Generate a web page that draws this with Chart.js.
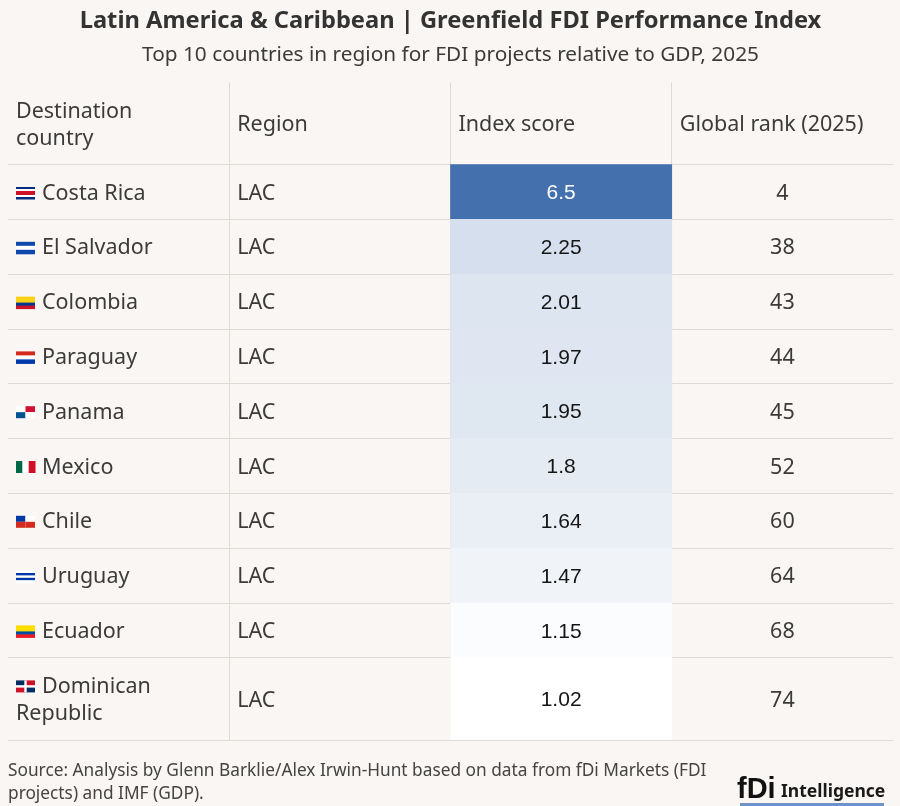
<!DOCTYPE html>
<html>
<head>
<meta charset="utf-8">
<script src="https://cdn.jsdelivr.net/npm/chart.js@4.4.1/dist/chart.umd.min.js"></script>
<style>
  html, body { margin: 0; padding: 0; background: #faf6f3; }
  canvas { display: block; }
</style>
</head>
<body>
<canvas id="myChart" width="900" height="806"></canvas>
<script>
// table content
const headers = [['Destination', 'country'], ['Region'], ['Index score'], ['Global rank (2025)']];
const countries = [['Costa Rica'], ['El Salvador'], ['Colombia'], ['Paraguay'], ['Panama'],
    ['Mexico'], ['Chile'], ['Uruguay'], ['Ecuador'], ['Dominican', 'Republic']];
const regions = ['LAC', 'LAC', 'LAC', 'LAC', 'LAC', 'LAC', 'LAC', 'LAC', 'LAC', 'LAC'];
const scores = [6.5, 2.25, 2.01, 1.97, 1.95, 1.8, 1.64, 1.47, 1.15, 1.02];
const ranks = [4, 38, 43, 44, 45, 52, 60, 64, 68, 74];

const FONT = "'Noto Sans', sans-serif";
const gridColor = '#dedad6';
const textColor = '#3b3b3b';

// little flags, drawn in place of emoji
const flags = {
    'Costa Rica': {h: [['#002b7f', 1], ['#fff', 1], ['#ce1126', 2], ['#fff', 1], ['#002b7f', 1]]},
    'El Salvador': {h: [['#0f47af', 1], ['#fff', 1], ['#0f47af', 1]]},
    'Colombia': {h: [['#fcd116', 2], ['#003893', 1], ['#ce1126', 1]]},
    'Paraguay': {h: [['#d52b1e', 1], ['#fff', 1], ['#0038a8', 1]]},
    'Panama': {q: ['#fff', '#d21034', '#005293', '#fff']},
    'Mexico': {v: [['#006847', 1], ['#fff', 1], ['#ce1126', 1]]},
    'Chile': {q: ['#0039a6', '#fff', '#d52b1e', '#d52b1e']},
    'Uruguay': {h: [['#fff', 1], ['#0038a8', 1], ['#fff', 1], ['#0038a8', 1], ['#fff', 1]]},
    'Ecuador': {h: [['#ffdd00', 2], ['#034ea2', 1], ['#ed1c24', 1]]},
    'Dominican': {q: ['#002d62', '#ce1126', '#ce1126', '#002d62'], cross: '#fff'}
};

// row extents in "row units": one-line rows = 1, two-line rows = 1.5
const unitsFor = lines => lines.length > 1 ? 1.5 : 1;
const headerUnits = Math.max(...headers.map(unitsFor));
let rowTop = [], rowBottom = [];
let acc = headerUnits;
countries.forEach(c => {
    rowTop.push(acc);
    acc += unitsFor(c);
    rowBottom.push(acc);
});
const totalUnits = acc;
const boundaries = [0, headerUnits].concat(rowBottom);

// colour scale for the index score column
const lo = [255, 255, 255], hi = [68, 112, 174];
const minS = Math.min(...scores), maxS = Math.max(...scores);
function scoreColor(s) {
    const t = (s - minS) / (maxS - minS);
    const c = lo.map((v, k) => Math.round(v + (hi[k] - v) * t));
    return 'rgb(' + c.join(',') + ')';
}

function drawFlag(ctx, f, x, y, w, h) {
    ctx.save();
    if (f.h || f.v) {
        const parts = f.h || f.v;
        const total = parts.reduce((a, p) => a + p[1], 0);
        let pos = 0;
        parts.forEach(p => {
            ctx.fillStyle = p[0];
            if (f.h) ctx.fillRect(x, y + h * pos / total, w, h * p[1] / total + 0.5);
            else ctx.fillRect(x + w * pos / total, y, w * p[1] / total + 0.5, h);
            pos += p[1];
        });
    } else {
        const q = f.q;
        ctx.fillStyle = q[0]; ctx.fillRect(x, y, w / 2, h / 2);
        ctx.fillStyle = q[1]; ctx.fillRect(x + w / 2, y, w / 2, h / 2);
        ctx.fillStyle = q[2]; ctx.fillRect(x, y + h / 2, w / 2, h / 2);
        ctx.fillStyle = q[3]; ctx.fillRect(x + w / 2, y + h / 2, w / 2, h / 2);
        if (f.cross) {
            ctx.fillStyle = f.cross;
            ctx.fillRect(x + w / 2 - 1.2, y, 2.4, h);
            ctx.fillRect(x, y + h / 2 - 1.2, w, 2.4);
        }
    }
    ctx.restore();
}

const tableText = {
    id: 'tableText',
    beforeDraw(chart) {
        const ctx = chart.ctx;
        ctx.save();
        ctx.fillStyle = '#faf6f3';
        ctx.fillRect(0, 0, chart.width, chart.height);
        ctx.restore();
    },
    afterDatasetsDraw(chart) {
        const ctx = chart.ctx;
        const xs = chart.scales.x, ys = chart.scales.y;
        const colW = xs.getPixelForValue(1) - xs.getPixelForValue(0);
        const left = c => xs.getPixelForValue(c) - colW / 2;
        const lineH = 27;
        const nudge = 1.5;
        const bodyFont = '21.5px ' + FONT;
        ctx.save();
        ctx.textBaseline = 'middle';

        function lines(arr, x, yc, align) {
            ctx.textAlign = align;
            arr.forEach((t, k) => {
                ctx.fillText(t, x, yc + nudge + (k - (arr.length - 1) / 2) * lineH);
            });
        }

        // header
        ctx.font = bodyFont;
        ctx.fillStyle = textColor;
        const hy = ys.getPixelForValue(headerUnits / 2);
        headers.forEach((h, c) => lines(h, left(c) + 8, hy, 'left'));

        countries.forEach((name, i) => {
            const yc = ys.getPixelForValue((rowTop[i] + rowBottom[i]) / 2);
            ctx.font = bodyFont;
            ctx.fillStyle = textColor;
            // flag sits in front of the first line
            const firstY = yc - (name.length - 1) / 2 * lineH;
            drawFlag(ctx, flags[name[0]], left(0) + 8, firstY - 5, 19, 12);
            ctx.textAlign = 'left';
            name.forEach((t, k) => {
                const xx = k === 0 ? left(0) + 34 : left(0) + 8;
                ctx.fillText(t, xx, firstY + nudge + k * lineH);
            });
            lines([regions[i]], left(1) + 8, yc, 'left');
            lines([String(ranks[i])], xs.getPixelForValue(3), yc, 'center');
            ctx.font = "21px 'Liberation Sans', Arial, sans-serif";
            ctx.fillStyle = i === scores.indexOf(maxS) ? '#ffffff' : '#151515';
            lines([String(scores[i])], xs.getPixelForValue(2), yc, 'center');
        });
        ctx.restore();
    },
    afterDraw(chart) {
        const ctx = chart.ctx;
        const b = chart.chartArea.bottom;
        ctx.save();
        ctx.textBaseline = 'middle';
        ctx.textAlign = 'left';
        ctx.fillStyle = '#444';
        ctx.font = '17.3px ' + FONT;
        ctx.fillText('Source: Analysis by Glenn Barklie/Alex Irwin-Hunt based on data from fDi Markets (FDI', 8, b + 31);
        ctx.fillText('projects) and IMF (GDP).', 8, b + 54);
        // logo
        ctx.fillStyle = '#111';
        ctx.font = "bold 29px 'Liberation Sans Narrow', 'Liberation Sans', sans-serif";
        ctx.fillText('fDi', 737, b + 50);
        ctx.font = 'bold 17.5px ' + FONT;
        ctx.fillStyle = '#1a1a1a';
        ctx.fillText('Intelligence', 781, b + 52);
        ctx.fillStyle = '#6f93c9';
        ctx.fillRect(740, b + 63, 144, 3);
        ctx.restore();
    }
};

const ctx = document.getElementById('myChart').getContext('2d');
const chart = new Chart(ctx, {
    type: 'bar',
    data: {
        labels: headers.map(h => h.join(' ')),
        datasets: [{
            label: 'Index score',
            data: scores.map((s, i) => ({x: headers[2].join(' '), y: [rowTop[i], rowBottom[i]]})),
            backgroundColor: c => scoreColor(scores[c.dataIndex]),
            borderWidth: 0,
            borderSkipped: false,
            categoryPercentage: 1,
            barPercentage: 1
        }]
    },
    options: {
        responsive: false,
        animation: false,
        layout: {padding: {left: 8, right: 7, top: 0, bottom: 66}},
        plugins: {
            legend: {display: false},
            tooltip: {enabled: false},
            title: {
                display: true,
                text: 'Latin America & Caribbean | Greenfield FDI Performance Index',
                color: '#333',
                font: {family: FONT, size: 23.7, weight: 'bold'},
                padding: {top: 7.5, bottom: 3}
            },
            subtitle: {
                display: true,
                text: 'Top 10 countries in region for FDI projects relative to GDP, 2025',
                color: '#3b3b3b',
                font: {family: FONT, size: 20.8},
                padding: {top: 4, bottom: 14.5}
            }
        },
        scales: {
            x: {
                type: 'category',
                offset: true,
                ticks: {display: false},
                border: {display: false},
                grid: {
                    offset: true,
                    drawTicks: false,
                    // only the inner column separators
                    color: c => (c.type !== 'tick' || c.index === 0) ? 'rgba(0,0,0,0)' : gridColor
                }
            },
            y: {
                type: 'linear',
                reverse: true,
                min: 0,
                max: totalUnits,
                afterBuildTicks: axis => { axis.ticks = boundaries.map(v => ({value: v})); },
                ticks: {display: false},
                border: {display: false},
                grid: {
                    drawTicks: false,
                    color: c => (c.tick && c.tick.value === 0) ? 'rgba(0,0,0,0)' : gridColor
                }
            }
        }
    },
    plugins: [tableText]
});
</script>
</body>
</html>
